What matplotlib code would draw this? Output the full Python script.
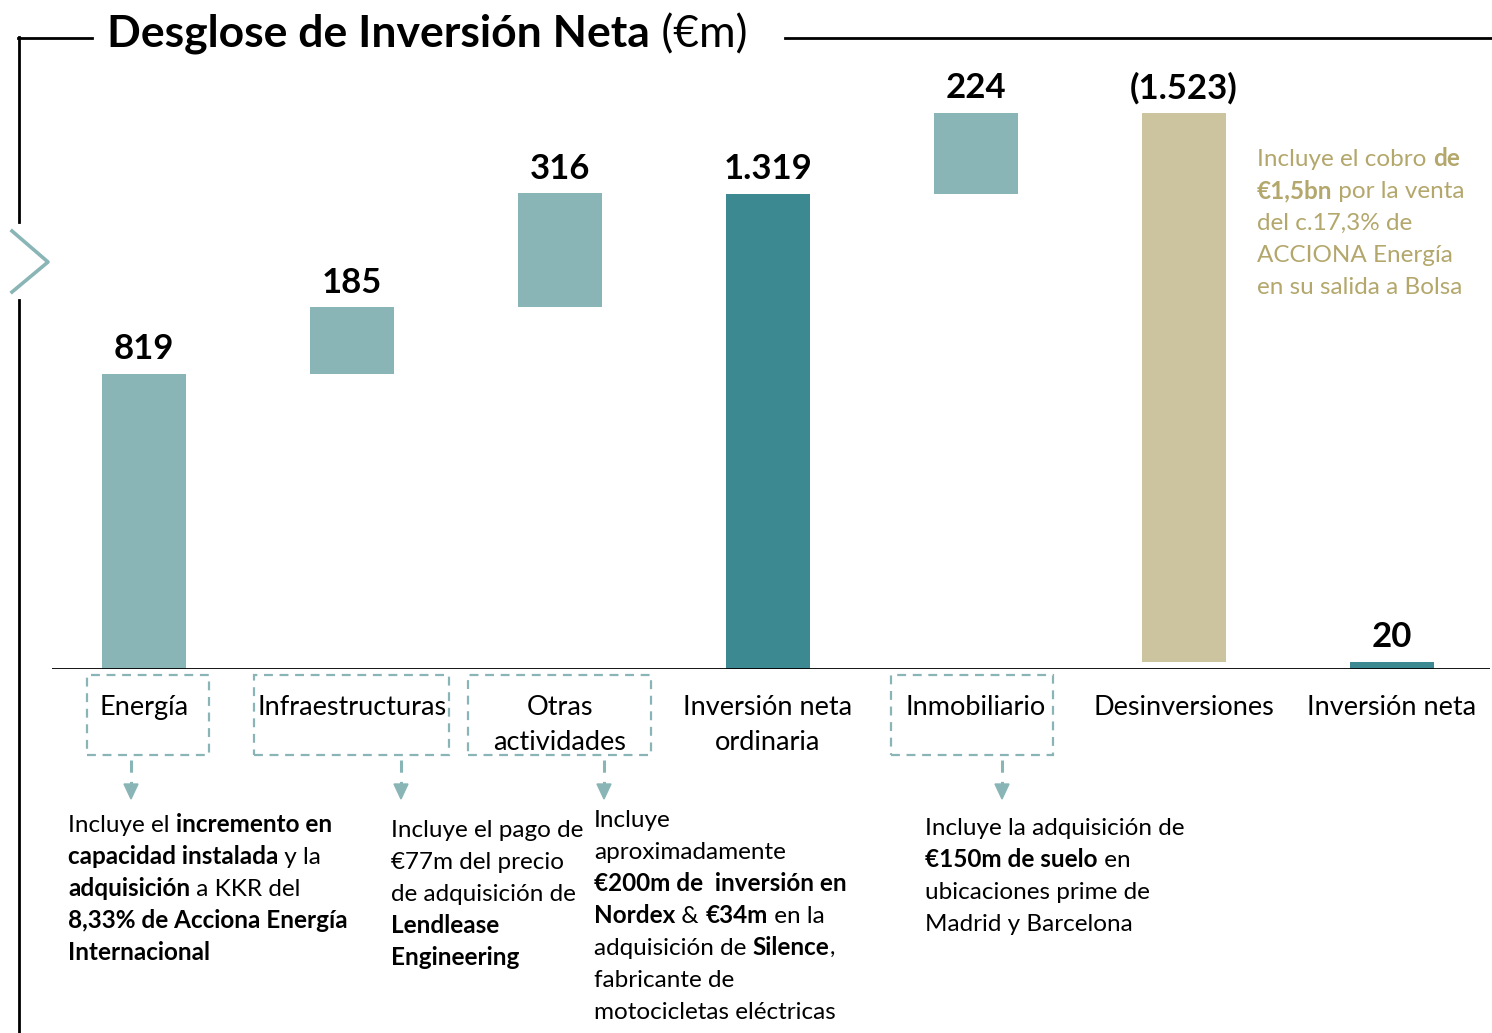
import matplotlib
matplotlib.use("Agg")
import matplotlib.pyplot as plt
from matplotlib.lines import Line2D
from matplotlib.patches import Rectangle, Polygon

# ---------------- data ----------------
categories = ["Energía", "Infraestructuras", "Otras\nactividades",
              "Inversión neta\nordinaria", "Inmobiliario", "Desinversiones",
              "Inversión neta"]
values = [819, 185, 316, 1319, 224, -1523, 20]
value_labels = ["819", "185", "316", "1.319", "224", "(1.523)", "20"]
kinds = ["delta", "delta", "delta", "total", "delta", "delta", "total"]

title_bold = "Desglose de Inversión Neta"
title_regular = " (€m)"

note_energia = [[("Incluye el ", False), ("incremento en", True)],
                [("capacidad instalada", True), (" y la", False)],
                [("adquisición", True), (" a KKR del", False)],
                [("8,33% de Acciona Energía", True)],
                [("Internacional", True)]]
note_infra = [[("Incluye el pago de", False)],
              [("€77m del precio", False)],
              [("de adquisición de", False)],
              [("Lendlease", True)],
              [("Engineering", True)]]
note_otras = [[("Incluye", False)],
              [("aproximadamente", False)],
              [("€200m de  inversión en", True)],
              [("Nordex", True), (" & ", False), ("€34m", True), (" en la", False)],
              [("adquisición de ", False), ("Silence", True), (",", False)],
              [("fabricante de", False)],
              [("motocicletas eléctricas", False)]]
note_inmob = [[("Incluye la adquisición de", False)],
              [("€150m de suelo", True), (" en", False)],
              [("ubicaciones prime de", False)],
              [("Madrid y Barcelona", False)]]
note_desinv = [[("Incluye el cobro ", False), ("de", True)],
               [("€1,5bn", True), (" por la venta", False)],
               [("del c.17,3% de", False)],
               [("ACCIONA Energía", False)],
               [("en su salida a Bolsa", False)]]

# ---------------- style ----------------
W, H = 1492, 1033
FAM = ["Lato", "DejaVu Sans"]
LIGHT = "#8AB5B6"
DARK = "#3D8991"
BEIGE = "#CBC49E"
GOLD = "#B3A76C"

fig = plt.figure(figsize=(W / 100, H / 100), dpi=100)
renderer = fig.canvas.get_renderer()


def fx(x):
    return x / W


def fy(y):
    return 1 - y / H


def measure(s, size, bold):
    kw = dict(fontsize=size, fontweight="bold" if bold else "normal", family=FAM)
    t1 = fig.text(0, 0, s + "|", **kw)
    t2 = fig.text(0, 0, "|", **kw)
    w = t1.get_window_extent(renderer).width - t2.get_window_extent(renderer).width
    t1.remove()
    t2.remove()
    return w


def rich_line(x, y, runs, size, color="black"):
    cx = x
    for s, bold in runs:
        fig.text(fx(cx), fy(y), s, fontsize=size,
                 fontweight="bold" if bold else "normal", family=FAM,
                 color=color, ha="left", va="baseline")
        cx += measure(s, size, bold)


def note(x, y0, lines, size=17.5, spacing=32, color="black"):
    for k, runs in enumerate(lines):
        rich_line(x, y0 + k * spacing, runs, size, color)


# ---------------- axes / bars ----------------
ax_left, ax_right, ax_base, ax_top = 52, 1490, 669, 60
px_per_unit_x = 208
px_per_unit_y = 0.3605
ax = fig.add_axes([fx(ax_left), fy(ax_base), (ax_right - ax_left) / W,
                   (ax_base - ax_top) / H])
x0 = -(144 - ax_left) / px_per_unit_x
ax.set_xlim(x0, x0 + (ax_right - ax_left) / px_per_unit_x)
ax.set_ylim(0, (ax_base - ax_top) / px_per_unit_y)
ax.axis("off")

bar_w = 84 / px_per_unit_x
running = 0
tops = []
for i, (v, kind) in enumerate(zip(values, kinds)):
    if kind == "total":
        bottom, height = 0, v
        color = DARK
        running = v
    else:
        if v >= 0:
            bottom, height = running, v
            color = LIGHT
        else:
            bottom, height = running + v, -v
            color = BEIGE
        running += v
    ax.bar(i, height, bottom=bottom, width=bar_w, color=color, zorder=2)
    tops.append(bottom + height)

for i, (lab, top) in enumerate(zip(value_labels, tops)):
    ax.annotate(lab, (i, top), xytext=(0, 6), textcoords="offset points",
                ha="center", va="bottom", fontsize=25, fontweight="bold",
                family=FAM, clip_on=False)

ax.axhline(0, color="black", lw=2, zorder=3)

# category labels
for i, cat in enumerate(categories):
    cx = ax.transData.transform((i, 0))[0]
    for k, line in enumerate(cat.split("\n")):
        fig.text(fx(cx), fy(715 + 35 * k), line, fontsize=19.5, family=FAM,
                 ha="center", va="baseline")

# dashed boxes with arrows (x-left, x-right, arrow x) in pixels
boxes = [(87, 209, 131), (254, 449, 401), (468, 651, 604), (891, 1053, 1002)]
for xl, xr, xa in boxes:
    fig.add_artist(Rectangle((fx(xl), fy(755)), (xr - xl) / W, 80 / H,
                             transform=fig.transFigure, fill=False,
                             ec=LIGHT, lw=1.6, ls=(0, (4, 3))))
    fig.add_artist(Line2D([fx(xa), fx(xa)], [fy(760), fy(784)],
                          transform=fig.transFigure, color=LIGHT, lw=2.2,
                          ls=(0, (4, 3))))
    fig.add_artist(Polygon([(fx(xa - 7), fy(784)), (fx(xa + 7), fy(784)),
                            (fx(xa), fy(799))], closed=True,
                           transform=fig.transFigure, color=LIGHT))

# notes
note(68, 832, note_energia)
note(391, 837, note_infra)
note(594, 827, note_otras)
note(925, 835, note_inmob)
note(1257, 166, note_desinv, color=GOLD)

# title
rich_line(107, 47, [(title_bold, True), (title_regular, False)], 32)

# frame lines
frame_kw = dict(transform=fig.transFigure, color="black", lw=2)
fig.add_artist(Line2D([fx(18), fx(92)], [fy(38), fy(38)], **frame_kw))
fig.add_artist(Line2D([fx(785), fx(1492)], [fy(38), fy(38)], **frame_kw))
fig.add_artist(Line2D([fx(19), fx(19)], [fy(37), fy(222)], **frame_kw))
fig.add_artist(Line2D([fx(19), fx(19)], [fy(300), fy(1033)], **frame_kw))
# chevron
fig.add_artist(Line2D([fx(12), fx(48), fx(12)], [fy(231), fy(262), fy(292)],
                      transform=fig.transFigure, color=LIGHT, lw=2.6))

fig.savefig("out.png", dpi=100)
